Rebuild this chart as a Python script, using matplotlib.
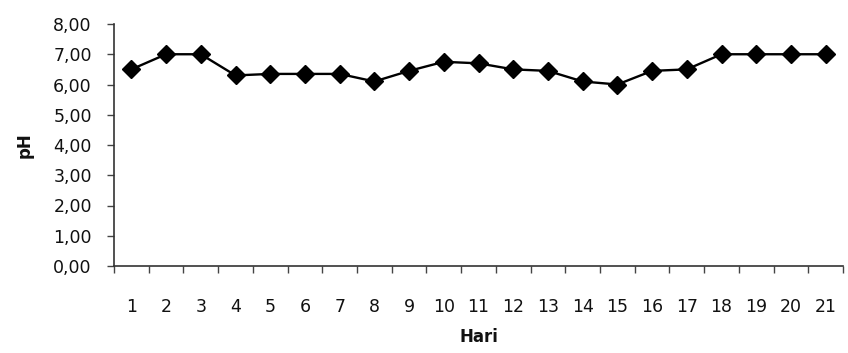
import matplotlib
matplotlib.use("Agg")
import matplotlib.pyplot as plt
from matplotlib.ticker import FixedLocator, FuncFormatter

# Daily pH readings
days = list(range(1, 22))
ph = [6.5, 7.0, 7.0, 6.3, 6.35, 6.35, 6.35, 6.1, 6.45, 6.75, 6.7,
      6.5, 6.45, 6.1, 6.0, 6.45, 6.5, 7.0, 7.0, 7.0, 7.0]
y_ticks = [0, 1, 2, 3, 4, 5, 6, 7, 8]

plt.rcParams['font.family'] = ['DejaVu Sans']
text_color = '#111111'

fig = plt.figure(figsize=(8.48, 3.53), dpi=100)
ax = fig.add_axes([114 / 848, 1 - 266 / 353, (843 - 114) / 848, (266 - 24) / 353])

ax.plot(days, ph, color='black', linewidth=1.7, marker='D', markersize=9,
        markerfacecolor='black', markeredgecolor='black')

ax.set_xlim(0.5, 21.5)
ax.set_ylim(0, 8)

# y axis
ax.yaxis.set_major_locator(FixedLocator(y_ticks))
ax.yaxis.set_major_formatter(FuncFormatter(lambda v, p: f"{v:.2f}".replace('.', ',')))

# x axis: labels at categories, tick marks on category boundaries
ax.set_xticks(days)
ax.set_xticklabels([str(d) for d in days])
ax.set_xticks([d + 0.5 for d in range(0, 22)], minor=True)
ax.tick_params(axis='x', which='major', length=0, pad=23, labelsize=12.5, labelcolor=text_color)
ax.tick_params(axis='x', which='minor', length=5, width=1, direction='out', color='#444444')
ax.tick_params(axis='y', which='major', length=5, width=1, direction='out', pad=11,
               labelsize=12.5, labelcolor=text_color, color='#444444')

for side in ('top', 'right'):
    ax.spines[side].set_visible(False)
for side in ('left', 'bottom'):
    ax.spines[side].set_color('#333333')
    ax.spines[side].set_linewidth(1.2)

ax.set_xlabel('Hari', fontsize=12, fontweight='bold', color=text_color, labelpad=9)
ax.set_ylabel('pH', fontsize=12, fontweight='bold', color=text_color, labelpad=14)

fig.savefig('out.png', dpi=100, facecolor='white')
